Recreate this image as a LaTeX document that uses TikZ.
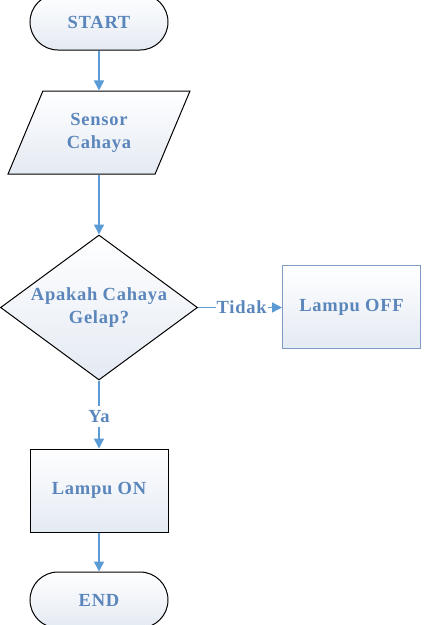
\documentclass[tikz,border=0pt]{standalone}
\usepackage{fontspec}
\setmainfont{Liberation Serif}[LetterSpace=4]
\usetikzlibrary{shapes.geometric,shapes.misc,arrows.meta}
\definecolor{txtblue}{HTML}{5A86BC}
\definecolor{arrblue}{HTML}{5B9BD5}
\definecolor{fillbot}{HTML}{E4EAF3}
\definecolor{boxedge}{HTML}{7E9CC4}
\begin{document}
\begin{tikzpicture}[x=1pt,y=-1pt,
  every node/.style={font=\fontsize{18.5}{23}\selectfont\bfseries, text=txtblue, align=center},
  shade/.style={top color=white, bottom color=fillbot},
  term/.style={rounded rectangle, draw=black, line width=1pt, shade, minimum width=138pt, minimum height=56pt, inner sep=0pt},
  proc/.style={rectangle, draw=black, line width=1pt, shade, minimum width=138pt, minimum height=83pt, inner sep=0pt},
  io/.style={trapezium, trapezium left angle=63, trapezium right angle=117, trapezium stretches=true, draw=black, line width=1pt, shade, minimum width=182pt, minimum height=83pt, inner sep=0pt},
  dec/.style={diamond, draw=black, line width=1pt, shade, minimum width=197pt, minimum height=145pt, aspect=1.36, inner sep=0pt},
  arr/.style={draw=arrblue, line width=1.5pt, -{Triangle[length=10pt,width=10pt]}},
  lbl/.style={fill=white, inner sep=2pt}
]
\useasboundingbox (0,0) rectangle (427,625);
\clip (0,0) rectangle (427,625);
\node[term] (start) at (99,22) {START};
\node[io] (sensor) at (99,132.5) {Sensor\\Cahaya};
\node[dec] (dec) at (99,307.5) {Apakah Cahaya\\Gelap?};
\node[proc, draw=boxedge] (off) at (351.5,307) {Lampu OFF};
\node[proc] (on) at (99,490.5) {Lampu ON};
\node[term] (end) at (99,600) {END};
\draw[arr] (start.south) -- (start.south |- sensor.north);
\draw[arr] (start.south |- sensor.south) -- (dec.north);
\draw[arr] (dec.east) -- node[lbl, pos=0.52, inner sep=1pt] {Tidak} (dec.east -| off.west);
\draw[arr] (dec.south) -- node[lbl, pos=0.53, inner sep=4pt] {Ya} (on.north);
\draw[arr] (on.south) -- (end.north);
\end{tikzpicture}
\end{document}
